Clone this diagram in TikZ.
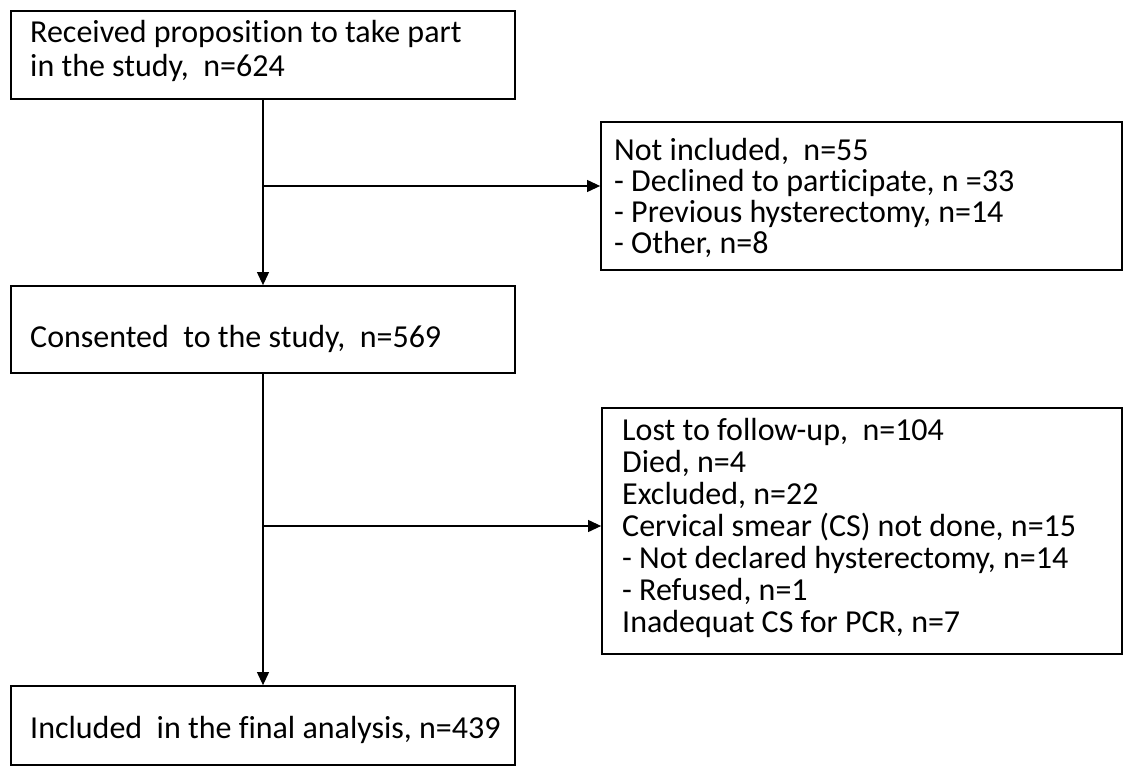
\documentclass[tikz,border=0pt]{standalone}
\usepackage{fontspec}
\setmainfont{Carlito}[Ligatures=NoCommon]
\usetikzlibrary{arrows.meta}
\begin{document}
\begin{tikzpicture}[x=1pt,y=-1pt,
  box/.style={draw=black,line width=1.8pt,inner sep=0pt},
  txt/.style={anchor=base west,inner sep=0pt,align=left},
  conn/.style={draw=black,line width=1.1pt},
  arr/.style={conn,-{Triangle[length=13pt,width=12pt]}}]
\useasboundingbox (0,0) rectangle (1127,768);
\fill[white] (0,0) rectangle (1127,768);
% boxes
\node[box,minimum width=504pt,minimum height=88pt] (b1) at (263,55) {};
\node[box,minimum width=521pt,minimum height=148pt] (b2) at (861.5,196) {};
\node[box,minimum width=504pt,minimum height=87pt] (b3) at (263,329.5) {};
\node[box,minimum width=520pt,minimum height=246pt] (b4) at (862,531) {};
\node[box,minimum width=504pt,minimum height=79pt] (b5) at (263,725.5) {};
% texts (anchored at the baseline of their last line)
\node[txt,font=\fontsize{32}{34}\selectfont] (t1) at (30,77) {Received proposition to take part\\in the study,~ n=624};
\node[txt,font=\fontsize{32}{31}\selectfont] (t2) at (614,253) {Not included,~ n=55\\- Declined to participate, n =33\\- Previous hysterectomy, n=14\\- Other, n=8};
\node[txt,font=\fontsize{32}{34}\selectfont] (t3) at (30,347) {Consented~ to the study,~ n=569};
\node[txt,font=\fontsize{32}{32}\selectfont] (t4) at (622,632) {Lost to follow-up,~ n=104\\Died, n=4\\Excluded, n=22\\Cervical smear (CS) not done, n=15\\- Not declared hysterectomy, n=14\\- Refused, n=1\\Inadequat CS for PCR, n=7};
\node[txt,font=\fontsize{32}{34}\selectfont] (t5) at (30,738) {Included~ in the final analysis, n=439};
% connectors
\coordinate (j1) at (263,186);
\coordinate (j2) at (263,526);
\draw[arr] (b1.south) -- (b3.north);
\draw[arr] (b3.south) -- (b5.north);
\draw[arr] (j1) -- (j1 -| b2.west);
\draw[arr] (j2) -- (j2 -| b4.west);
\end{tikzpicture}
\end{document}
